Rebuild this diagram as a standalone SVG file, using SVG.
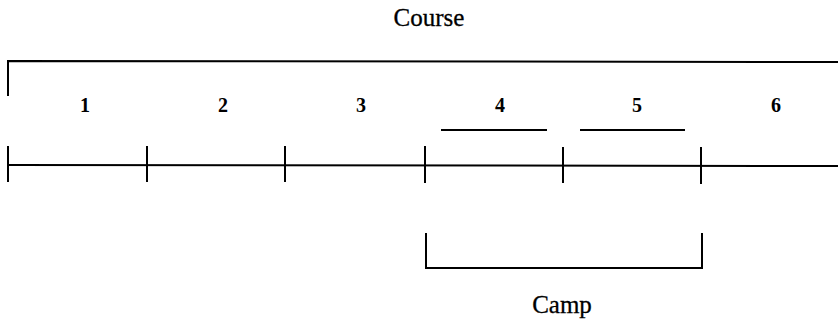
<svg xmlns="http://www.w3.org/2000/svg" width="838" height="329" viewBox="0 0 838 329">
<style>
.ln{stroke:#000;stroke-width:2;fill:none}
.t{font-family:"Liberation Serif",serif;font-size:25px;fill:#000;text-anchor:middle;stroke:#000;stroke-width:0.3}
.n{font-family:"Liberation Serif",serif;font-size:20px;font-weight:bold;fill:#000;text-anchor:middle}
</style>
<rect width="838" height="329" fill="#fff"/>
<g id="course">
<polyline class="ln" points="8,96 8,61 838,62"/>
<text class="t" x="429" y="26">Course</text>
</g>
<g id="labels">
<text class="n" x="85" y="112">1</text>
<text class="n" x="223" y="112">2</text>
<text class="n" x="361" y="112">3</text>
<text class="n" x="500" y="112">4</text>
<text class="n" x="637" y="112">5</text>
<text class="n" x="776" y="112">6</text>
</g>
<g id="underlines">
<line class="ln" x1="441" y1="130" x2="547" y2="130"/>
<line class="ln" x1="580" y1="130" x2="685" y2="130"/>
</g>
<g id="timeline">
<line class="ln" x1="8" y1="165" x2="838" y2="166"/>
<line class="ln" x1="8" y1="146" x2="8" y2="182"/>
<line class="ln" x1="147" y1="146" x2="147" y2="182"/>
<line class="ln" x1="285" y1="146" x2="285" y2="182"/>
<line class="ln" x1="425" y1="146" x2="425" y2="183"/>
<line class="ln" x1="563" y1="147" x2="563" y2="183"/>
<line class="ln" x1="701" y1="147" x2="701" y2="184"/>
</g>
<g id="camp">
<polyline class="ln" points="426,233 426,268 702,268 702,233"/>
<text class="t" x="562" y="313">Camp</text>
</g>
</svg>
